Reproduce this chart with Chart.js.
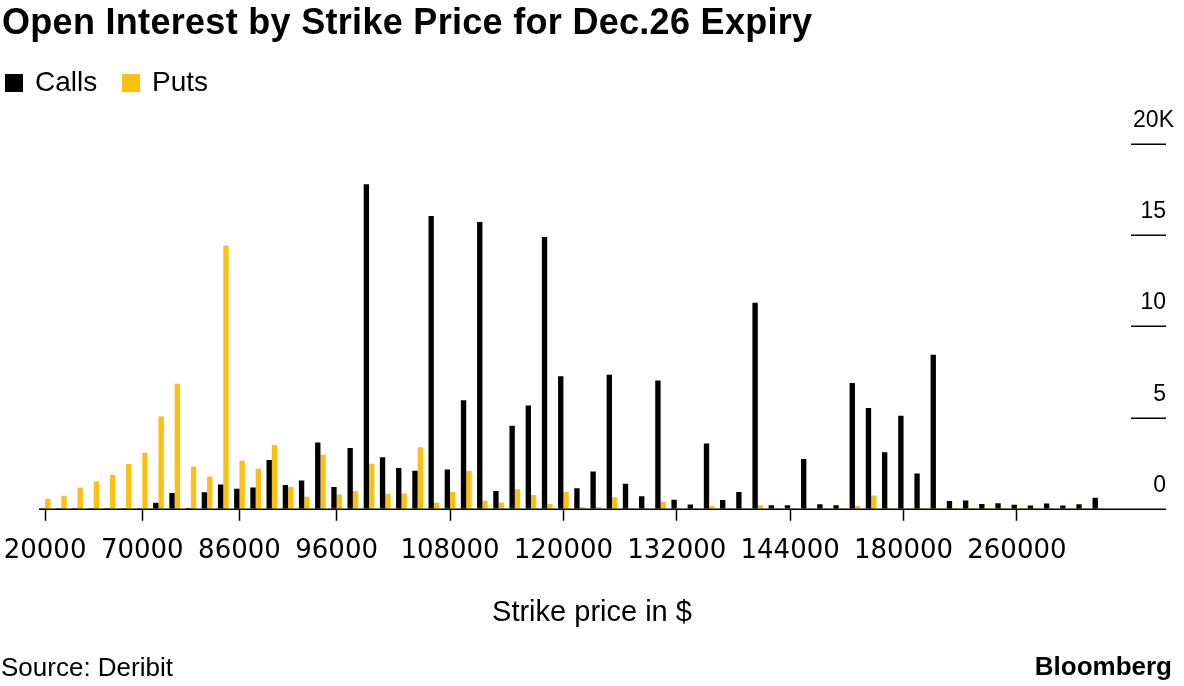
<!DOCTYPE html>
<html lang="en">
<head>
    <meta charset="UTF-8">
    <title>Open Interest by Strike Price for Dec.26 Expiry</title>
    <script src="https://cdn.jsdelivr.net/npm/chart.js"></script>
    <style>
        body {
            margin: 0;
            padding: 0;
            background: #ffffff;
            font-family: "Liberation Sans", Arial, sans-serif;
            color: #000000;
        }
        .page {
            position: relative;
            width: 1184px;
            height: 686px;
            overflow: hidden;
        }
        .chart-box {
            position: absolute;
            left: 0;
            top: 0;
            width: 1184px;
            height: 686px;
        }
        .txt {
            position: absolute;
            white-space: nowrap;
        }
        #title {
            left: 2px;
            top: 4px;
            font-size: 36px;
            line-height: 36px;
            font-weight: bold;
            letter-spacing: 0.3px;
        }
        #legend {
            left: 5px;
            top: 68px;
            font-size: 28px;
            line-height: 28px;
        }
        #legend .sw {
            display: inline-block;
            width: 18px;
            height: 18px;
            margin-right: 12px;
            vertical-align: -1px;
        }
        #legend .item { margin-right: 17px; }
        #xtitle {
            left: 0;
            width: 1184px;
            text-align: center;
            top: 597px;
            font-size: 29px;
            line-height: 29px;
        }
        #source {
            left: 1px;
            top: 654px;
            font-size: 26px;
            line-height: 26px;
        }
        #logo {
            right: 12px;
            top: 653px;
            font-size: 26px;
            line-height: 26px;
            font-weight: bold;
        }
    </style>
</head>
<body>
<div class="page">
    <div class="chart-box">
        <canvas id="chart"></canvas>
    </div>
    <div class="txt" id="title">Open Interest by Strike Price for Dec.26 Expiry</div>
    <div class="txt" id="legend">
        <span class="item"><span class="sw" style="background:#000000"></span>Calls</span>
        <span class="item"><span class="sw" style="background:#fdc010"></span>Puts</span>
    </div>
    <div class="txt" id="xtitle">Strike price in $</div>
    <div class="txt" id="source">Source: Deribit</div>
    <div class="txt" id="logo">Bloomberg</div>
</div>

<script>
    // strike prices (only some of them get a label on the axis)
    const strikes = [
        20000, 30000, 40000, 50000, 60000, 65000, 70000,
        75000, 78000, 80000, 82000, 85000, 86000,
        88000, 90000, 92000, 94000, 95000, 96000,
        98000, 100000, 102000, 104000, 105000, 106000, 108000,
        110000, 112000, 114000, 115000, 116000, 118000, 120000,
        122000, 124000, 125000, 126000, 128000, 130000, 132000,
        134000, 135000, 136000, 138000, 140000, 142000, 144000,
        145000, 146000, 148000, 150000, 160000, 170000, 180000,
        190000, 200000, 210000, 220000, 240000, 250000, 260000,
        280000, 300000, 320000, 340000, 400000
    ];

    const labelledStrikes = [20000, 70000, 86000, 96000, 108000, 120000, 132000, 144000, 180000, 260000];

    // open interest, contracts
    const calls = [
        30, 30, 30, 30, 30, 30, 30,
        330, 860, 50, 910, 1330, 1100,
        1170, 2680, 1310, 1550, 3640, 1200,
        3340, 17800, 2830, 2230, 2080, 16050, 2160,
        5950, 15730, 970, 4550, 5670, 14900, 7270,
        1130, 2050, 7350, 1370, 690, 7030, 500,
        240, 3580, 480, 920, 11300, 200, 200,
        2730, 250, 200, 6900, 5530, 3100, 5100,
        1930, 8440, 430, 460, 270, 300, 220,
        180, 290, 180, 250, 600
    ];

    const puts = [
        550, 710, 1150, 1500, 1860, 2460, 3070,
        5080, 6850, 2320, 1770, 14430, 2630,
        2190, 3500, 1200, 660, 2960, 780,
        970, 2470, 820, 840, 3370, 330, 920,
        2070, 440, 350, 1070, 760, 260, 920,
        100, 100, 630, 50, 50, 380, 50,
        50, 150, 50, 50, 200, 40, 40,
        50, 50, 50, 150, 730, 50, 50,
        50, 50, 40, 40, 40, 40, 40,
        40, 40, 40, 40, 40
    ];

    const yTicks = [0, 5000, 10000, 15000, 20000];
    const yTickLabels = ['0', '5', '10', '15', '20K'];

    function isLabelled(i) {
        return labelledStrikes.indexOf(strikes[i]) !== -1;
    }

    // right hand value axis: labels sitting above short lines, plus the baseline
    const rightAxis = {
        id: 'rightAxis',
        afterDatasetsDraw(chart) {
            const ctx = chart.ctx;
            const area = chart.chartArea;
            const y = chart.scales.y;
            const lineEnd = chart.width - 18;
            ctx.save();
            ctx.strokeStyle = '#000000';
            ctx.fillStyle = '#000000';
            ctx.lineWidth = 1.5;
            ctx.font = '23px "Liberation Sans", Arial, sans-serif';
            ctx.textAlign = 'right';
            ctx.textBaseline = 'alphabetic';
            yTicks.forEach(function(v, i) {
                const py = Math.round(y.getPixelForValue(v)) + 0.25;
                ctx.beginPath();
                ctx.moveTo(v === 0 ? area.left + 2 : area.right + 25, py);
                ctx.lineTo(lineEnd, py);
                ctx.stroke();
                const label = yTickLabels[i];
                const shift = label.endsWith('K') ? 8 : 0;
                ctx.fillText(label, lineEnd + shift, py - 17);
            });
            ctx.restore();
        }
    };

    new Chart(document.getElementById('chart'), {
        type: 'bar',
        data: {
            labels: strikes,
            datasets: [
                {
                    label: 'Calls',
                    data: calls,
                    backgroundColor: '#000000',
                    borderWidth: 0
                },
                {
                    label: 'Puts',
                    data: puts,
                    backgroundColor: '#fdc010',
                    borderWidth: 0
                }
            ]
        },
        options: {
            responsive: true,
            maintainAspectRatio: false,
            animation: false,
            layout: {
                padding: { left: 37, right: 78, top: 144, bottom: 104 }
            },
            datasets: {
                bar: {
                    barPercentage: 1.0,
                    categoryPercentage: 0.66
                }
            },
            plugins: {
                legend: { display: false },
                tooltip: { enabled: false },
                title: { display: false }
            },
            scales: {
                x: {
                    // the first label may hang over the left edge
                    afterFit: function(scale) {
                        scale.paddingLeft = 0;
                        scale.paddingRight = 0;
                    },
                    border: { display: false },
                    grid: {
                        offset: false,
                        drawOnChartArea: false,
                        drawTicks: true,
                        tickLength: 12,
                        tickWidth: 1.5,
                        tickColor: function(context) {
                            return isLabelled(context.index) ? '#000000' : 'rgba(0,0,0,0)';
                        }
                    },
                    ticks: {
                        autoSkip: false,
                        maxRotation: 0,
                        minRotation: 0,
                        padding: 15,
                        color: '#000000',
                        font: { family: '"DejaVu Sans", sans-serif', size: 26 },
                        callback: function(value, index) {
                            return isLabelled(index) ? String(strikes[index]) : '';
                        }
                    }
                },
                y: {
                    display: false,
                    min: 0,
                    max: 20000
                }
            }
        },
        plugins: [rightAxis]
    });
</script>
</body>
</html>
